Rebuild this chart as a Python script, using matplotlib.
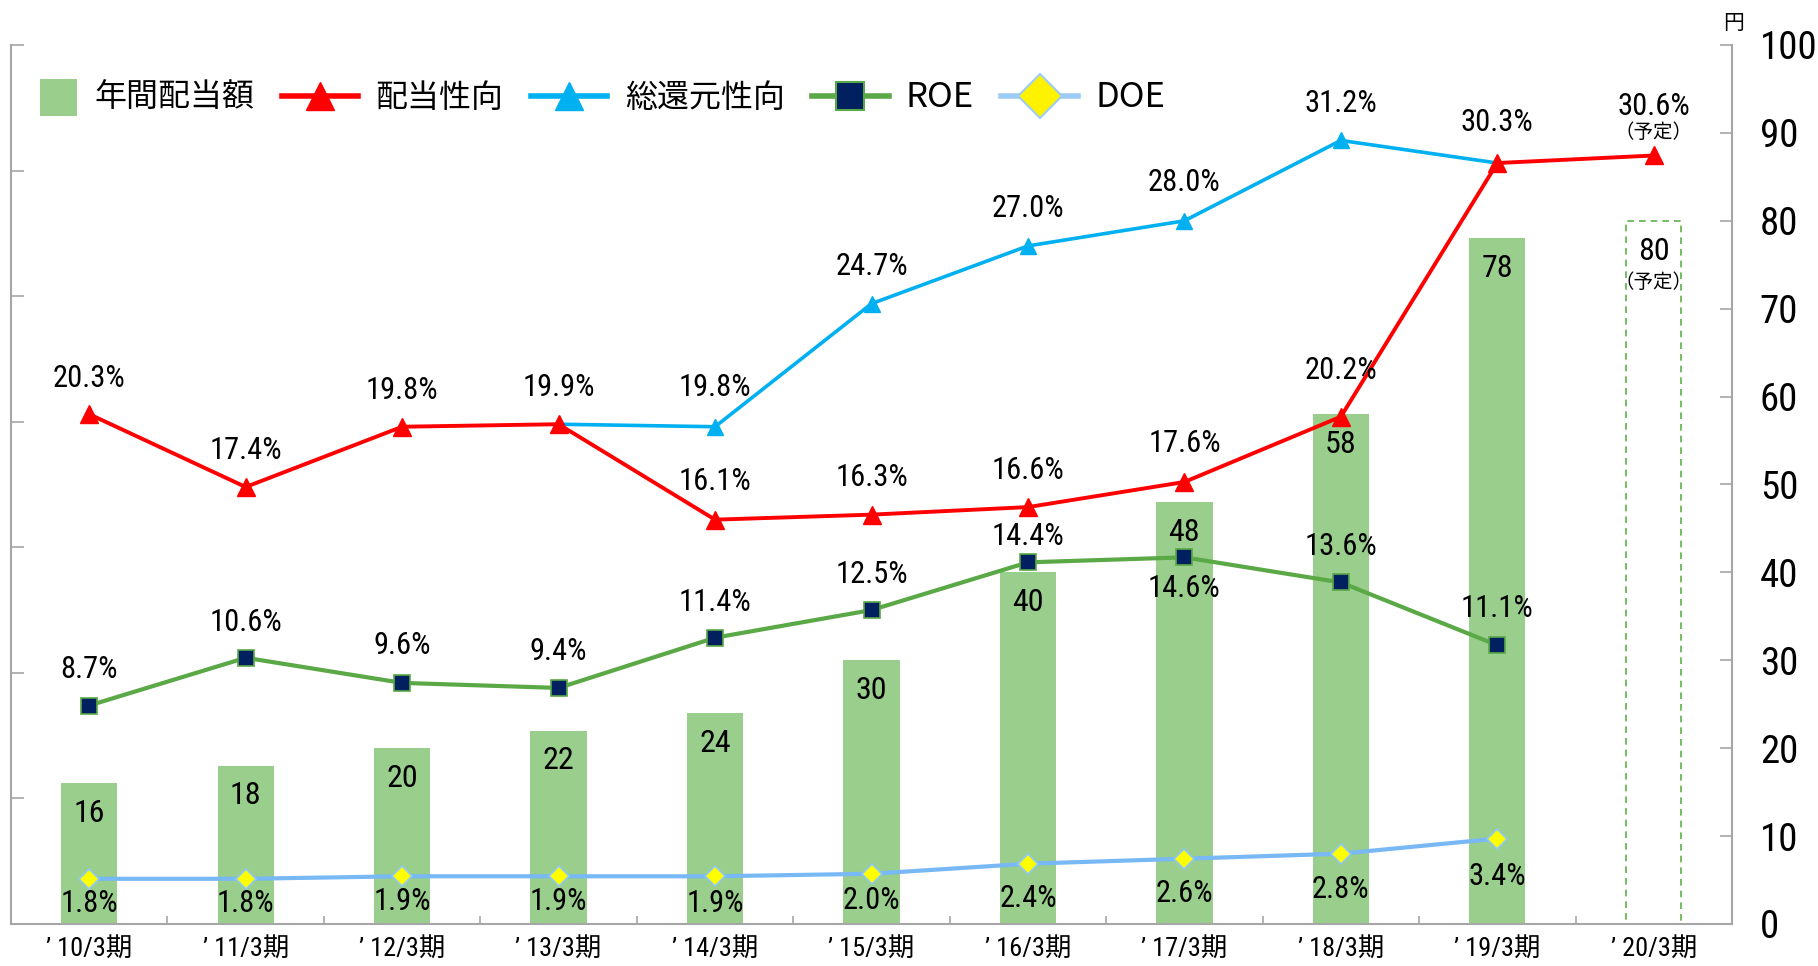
import numpy as np
import matplotlib
matplotlib.use("Agg")
import matplotlib.pyplot as plt
from matplotlib import font_manager
from matplotlib.lines import Line2D
from matplotlib.patches import Rectangle
from matplotlib.legend_handler import HandlerBase

# データ
PERIODS = ["’ 10/3期", "’ 11/3期", "’ 12/3期", "’ 13/3期", "’ 14/3期", "’ 15/3期",
           "’ 16/3期", "’ 17/3期", "’ 18/3期", "’ 19/3期", "’ 20/3期"]
DIVIDEND = [16, 18, 20, 22, 24, 30, 40, 48, 58, 78]      # 年間配当額 (円)
DIVIDEND_PLAN = 80                                         # '20/3期 予定
PAYOUT = [20.3, 17.4, 19.8, 19.9, 16.1, 16.3, 16.6, 17.6, 20.2, 30.3, 30.6]  # 配当性向
TOTAL_RETURN = [np.nan, np.nan, np.nan, 19.9, 19.8, 24.7, 27.0, 28.0, 31.2, 30.3, np.nan]  # 総還元性向
ROE = [8.7, 10.6, 9.6, 9.4, 11.4, 12.5, 14.4, 14.6, 13.6, 11.1]
DOE = [1.8, 1.8, 1.9, 1.9, 1.9, 2.0, 2.4, 2.6, 2.8, 3.4]

# ラベル位置 (ピクセル, 上が正)
PAYOUT_OFF = [36, 37, 36, 37, 38, 37, 37, 38, 46, 41, 49]
TOTAL_OFF = [None, None, None, None, 39, 37, 37, 38, 37, None, None]
ROE_OFF = [36, 35, 37, 36, 35, 36, 26, -31, 36, 37]
DOE_OFF = [-25, -25, -25, -25, -27, -27, -35, -35, -36, -38]


def pick_narrow():
    fonts = font_manager.fontManager.ttflist
    names = {f.name for f in fonts}
    for n in ["Liberation Sans Narrow", "Roboto Condensed", "Arial Narrow", "Open Sans Condensed"]:
        if n in names:
            return n, "normal"
    for f in fonts:
        if ("Narrow" in f.name or "Condensed" in f.name) and "CJK" not in f.name:
            return f.name, "normal"
    for fam in ["Roboto", "Noto Sans", "Open Sans", "DejaVu Sans", "Liberation Sans"]:
        for f in fonts:
            if f.name == fam and str(f.stretch) in ("condensed", "semi-condensed", "extra-condensed"):
                return fam, f.stretch
    return None, "normal"


NARROW, STRETCH = pick_narrow()
CJK = "Noto Sans CJK JP"
if NARROW:
    NUM_FONT = NARROW
    plt.rcParams["font.stretch"] = STRETCH
    SZ_LABEL, SZ_RIGHT, SZ_X = 22, 28, 19
else:
    NUM_FONT = "Liberation Sans"
    SZ_LABEL, SZ_RIGHT, SZ_X = 19, 23, 17
LABEL_FAMILY = [NUM_FONT, CJK]

GREEN_BAR = "#99CE8C"
RED = "#FF0000"
BLUE = "#00B0F0"
ROE_LINE = "#5AA846"
NAVY = "#002060"
DOE_LINE = "#78B8F4"
GRAY = "#A6A6A6"

fig = plt.figure(figsize=(18.18, 9.66), dpi=100)
ax = fig.add_axes([0.00605, 0.04348, 0.94665, 0.90994])
ax2 = ax.twinx()

x = np.arange(len(PERIODS))
xd = x[:len(DIVIDEND)]

# 棒グラフ (右軸)
ax.bar(xd, DIVIDEND, width=0.36, color=GREEN_BAR, zorder=1)
ax.bar(x[-1], DIVIDEND_PLAN, width=0.35, fill=False, edgecolor="#5DB04A",
       linestyle=(0, (4, 3)), linewidth=1.2, zorder=1)
ax.set_ylim(0, 100)
ax.set_xlim(-0.5, len(PERIODS) - 0.5)
ax.set_yticks(np.arange(0, 101, 10))
ax.yaxis.set_ticks_position("right")
ax.tick_params(axis="y", direction="in", length=9, width=1.2, color=GRAY, pad=20,
               labelsize=SZ_RIGHT)
for lab in ax.get_yticklabels():
    lab.set_family(LABEL_FAMILY)

ax.set_xticks(x)
ax.set_xticklabels(PERIODS, family=LABEL_FAMILY, fontsize=SZ_X)
ax.set_xticks(np.arange(0.5, len(PERIODS) - 1, 1.0), minor=True)
ax.tick_params(axis="x", which="major", length=0, pad=9)
ax.tick_params(axis="x", which="minor", direction="in", length=6, width=1.2, color=GRAY)

for s in ["left", "right", "bottom"]:
    ax.spines[s].set_color(GRAY)
    ax.spines[s].set_linewidth(1.5)
ax.spines["top"].set_visible(False)

for xi, v in zip(xd, DIVIDEND):
    ax.annotate(str(v), (xi, v), xytext=(0, -30), textcoords="offset pixels",
                ha="center", va="center", fontsize=SZ_LABEL + 1, family=LABEL_FAMILY, zorder=5)
ax.annotate(str(DIVIDEND_PLAN), (x[-1], DIVIDEND_PLAN), xytext=(0, -31),
            textcoords="offset pixels", ha="center", va="center", fontsize=SZ_LABEL + 1,
            family=LABEL_FAMILY)
ax.annotate("（予定）", (x[-1], DIVIDEND_PLAN), xytext=(0, -62),
            textcoords="offset pixels", ha="center", va="center", fontsize=14, family=CJK)

# 折れ線 (左軸 %)
ax2.set_ylim(0, 35)
ax2.set_yticks(np.arange(0, 36, 5))
ax2.yaxis.set_ticks_position("left")
ax2.tick_params(axis="y", direction="in", length=9, width=1.2, color=GRAY, labelleft=False,
                labelright=False)
for s in ax2.spines.values():
    s.set_visible(False)

ax2.plot(xd, DOE, color=DOE_LINE, linewidth=3.0, marker="D", markersize=10,
         markerfacecolor="#FFFF00", markeredgecolor="#8EC8F5", markeredgewidth=1.2, zorder=2)
ax2.plot(xd, ROE, color=ROE_LINE, linewidth=3.0, marker="s", markersize=12,
         markerfacecolor=NAVY, markeredgecolor=ROE_LINE, markeredgewidth=1.2, zorder=3)
ax2.plot(x, TOTAL_RETURN, color=BLUE, linewidth=2.6, marker="^", markersize=12,
         markerfacecolor=BLUE, markeredgecolor=BLUE, zorder=4)
ax2.plot(x, PAYOUT, color=RED, linewidth=2.8, marker="^", markersize=13,
         markerfacecolor=RED, markeredgecolor=RED, zorder=5)


def pct_labels(xs, vals, offs):
    for xi, v, off in zip(xs, vals, offs):
        if off is None or np.isnan(v):
            continue
        ax2.annotate(f"{v:.1f}%", (xi, v), xytext=(0, off), textcoords="offset pixels",
                     ha="center", va="center", fontsize=SZ_LABEL, family=LABEL_FAMILY, zorder=6)


pct_labels(x, PAYOUT, PAYOUT_OFF)
pct_labels(x, TOTAL_RETURN, TOTAL_OFF)
pct_labels(xd, ROE, ROE_OFF)
pct_labels(xd, DOE, DOE_OFF)
ax2.annotate("（予定）", (x[-1], PAYOUT[-1]), xytext=(0, 23), textcoords="offset pixels",
             ha="center", va="center", fontsize=14, family=CJK)


# 凡例: 棒は正方形をテキスト側に寄せて描く
class SquareHandler(HandlerBase):
    def create_artists(self, legend, orig_handle, xdescent, ydescent, width, height,
                       fontsize, trans):
        s = 27
        r = Rectangle((width - xdescent - s, height / 2 - ydescent - s / 2 - 1), s, s,
                      facecolor=GREEN_BAR, edgecolor="none", transform=trans)
        return [r]


bar_handle = Rectangle((0, 0), 1, 1, color=GREEN_BAR)
handles = [
    bar_handle,
    Line2D([], [], color=RED, linewidth=4, marker="^", markersize=20),
    Line2D([], [], color=BLUE, linewidth=4, marker="^", markersize=20),
    Line2D([], [], color=ROE_LINE, linewidth=4, marker="s", markersize=20,
           markerfacecolor=NAVY, markeredgecolor=ROE_LINE, markeredgewidth=1.5),
    Line2D([], [], color="#9CCBF5", linewidth=4, marker="D", markersize=22,
           markerfacecolor="#FFF200", markeredgecolor="#9CCBF5", markeredgewidth=1.5),
]
labels = ["年間配当額", "配当性向", "総還元性向", "ROE", "DOE"]
leg = ax2.legend(handles, labels, loc="upper left", bbox_to_anchor=(-0.006, 0.960), ncol=5,
                 frameon=False, prop={"family": CJK, "size": 23}, handlelength=2.4,
                 handletextpad=0.54, columnspacing=0.85, borderaxespad=0, borderpad=0,
                 handler_map={Rectangle: SquareHandler()})
for t in leg.get_texts()[3:]:
    t.set_fontsize(25)

fig.text(1734 / 1818, 1 - 23 / 966, "円", ha="center", va="center", fontsize=15, family=CJK)

fig.savefig("out.png", dpi=100)
